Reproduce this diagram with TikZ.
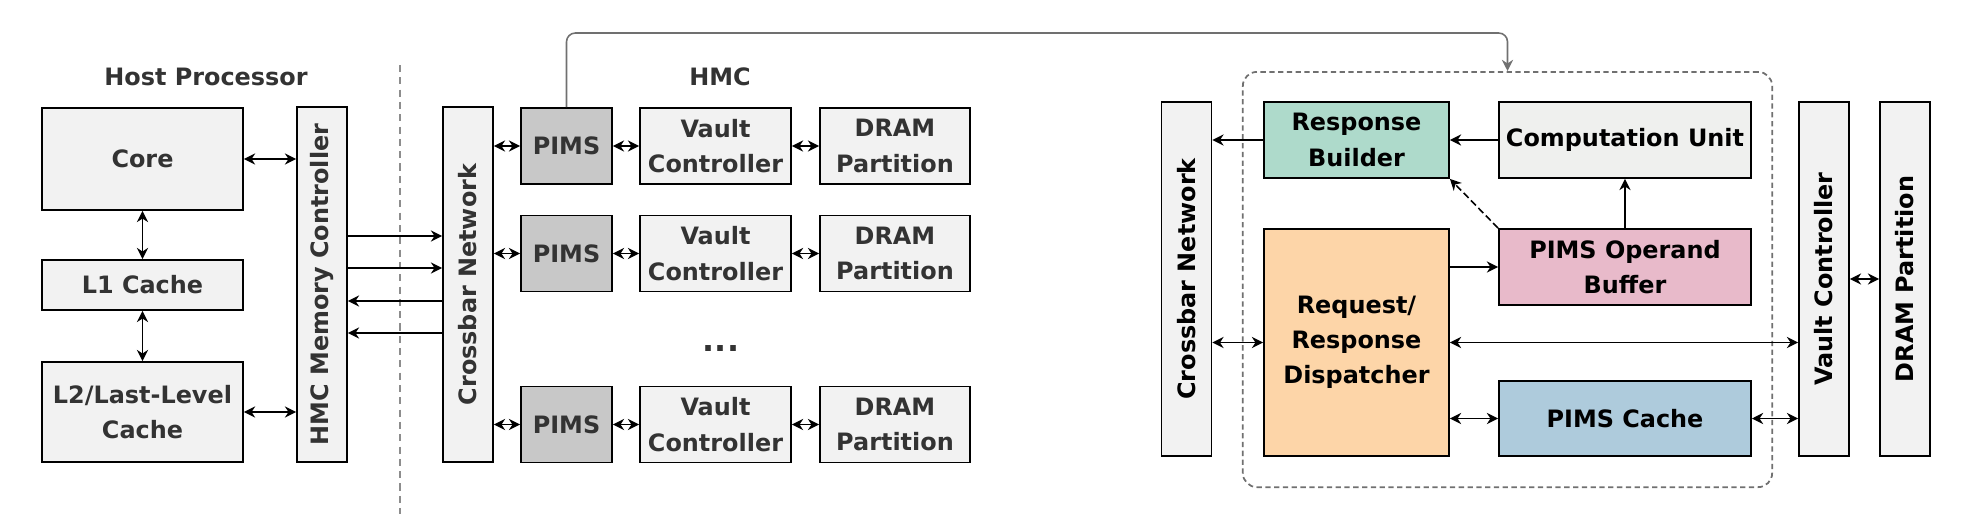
\documentclass[tikz,border=0pt]{standalone}
\usepackage{fontspec}
\setmainfont{DejaVu Sans}
\usetikzlibrary{arrows.meta}

\definecolor{boxGray}{HTML}{F2F2F2}
\definecolor{pimsGray}{HTML}{C8C8C8}
\definecolor{textGray}{HTML}{333333}
\definecolor{lineGray}{HTML}{707070}
\definecolor{builderTeal}{HTML}{AEDACB}
\definecolor{computeGray}{HTML}{EFF0EE}
\definecolor{operandPink}{HTML}{E8BACA}
\definecolor{dispatchPeach}{HTML}{FDD5A8}
\definecolor{cacheBlue}{HTML}{AECBDC}

\begin{document}
\begin{tikzpicture}[x=0.01cm, y=-0.01cm,
    >={Stealth[length=3.2pt,width=3.2pt]},
    box/.style={draw, line width=0.5pt, fill=boxGray, inner sep=0pt, align=center,
        text=textGray, font=\fontsize{6.8}{10}\selectfont\bfseries},
    title/.style={inner sep=0pt, text=textGray, font=\fontsize{6.8}{10}\selectfont\bfseries},
    busBox/.style={box, minimum width=0.5cm, minimum height=3.55cm},
    pimsBox/.style={box, fill=pimsGray, minimum width=0.91cm, minimum height=0.76cm},
    vaultBox/.style={box, minimum width=1.51cm, minimum height=0.76cm},
    dramBox/.style={box, minimum width=1.5cm, minimum height=0.76cm},
    unit/.style={box, text=black, minimum width=2.52cm, minimum height=0.76cm},
    link/.style={line width=0.45pt}]
    \useasboundingbox (0,0) rectangle (1966,514);

    % host side
    \node[title] (hostlabel) at (206,77) {Host Processor};
    \node[box, minimum width=2.01cm, minimum height=1.02cm] (core) at (142.5,159) {Core};
    \node[box, minimum width=2.01cm, minimum height=0.5cm] (l1) at (142.5,285) {L1 Cache};
    \node[box, minimum width=2.01cm, minimum height=1.0cm] (l2) at (142.5,412) {L2/Last-Level\\Cache};
    \node[busBox] (hmcmc) at (322,284.5) {\rotatebox{90}{HMC Memory Controller}};

    \draw[link, <->] (core.east) -- (hmcmc.west |- core.east);
    \draw[link, <->] (l2.east) -- (hmcmc.west |- l2.east);
    \draw[link, <->] (core.south) -- (l1.north);
    \draw[link, <->] (l1.south) -- (l2.north);

    \draw[lineGray!80, line width=0.4pt, dash pattern=on 2pt off 1.5pt] (400,65) -- (400,514);

    % HMC side
    \node[title] (hmclabel) at (720,77) {HMC};
    \node[busBox] (xbar) at (468,284.5) {\rotatebox{90}{Crossbar Network}};

    \draw[link, ->] (hmcmc.east |- 0,236) -- (xbar.west |- 0,236);
    \draw[link, ->] (hmcmc.east |- 0,268) -- (xbar.west |- 0,268);
    \draw[link, <-] (hmcmc.east |- 0,301) -- (xbar.west |- 0,301);
    \draw[link, <-] (hmcmc.east |- 0,333) -- (xbar.west |- 0,333);

    \node[pimsBox] (pims1) at (566.5,146) {PIMS};
    \node[vaultBox] (vault1) at (715.5,146) {Vault\\Controller};
    \node[dramBox] (dram1) at (895,146) {DRAM\\Partition};
    \node[pimsBox] (pims2) at (566.5,253.5) {PIMS};
    \node[vaultBox] (vault2) at (715.5,253.5) {Vault\\Controller};
    \node[dramBox] (dram2) at (895,253.5) {DRAM\\Partition};
    \node[title, font=\fontsize{9}{10}\selectfont\bfseries] (dots) at (721,348) {...};
    \node[pimsBox] (pims3) at (566.5,424.5) {PIMS};
    \node[vaultBox] (vault3) at (715.5,424.5) {Vault\\Controller};
    \node[dramBox] (dram3) at (895,424.5) {DRAM\\Partition};

    \draw[link, <->] (xbar.east |- pims1.west) -- (pims1.west);
    \draw[link, <->] (pims1.east) -- (vault1.west);
    \draw[link, <->] (vault1.east) -- (dram1.west);
    \draw[link, <->] (xbar.east |- pims2.west) -- (pims2.west);
    \draw[link, <->] (pims2.east) -- (vault2.west);
    \draw[link, <->] (vault2.east) -- (dram2.west);
    \draw[link, <->] (xbar.east |- pims3.west) -- (pims3.west);
    \draw[link, <->] (pims3.east) -- (vault3.west);
    \draw[link, <->] (vault3.east) -- (dram3.west);

    % PIMS detail
    \node[draw=lineGray, line width=0.5pt, dash pattern=on 1.5pt off 1pt, rounded corners=4pt,
        minimum width=5.29cm, minimum height=4.15cm] (pimsunit) at (1507.5,279.5) {};
    \draw[link, lineGray, ->, rounded corners=2.5pt] (pims1.north) |- (1000,33) -| (pimsunit.north);

    \node[busBox, text=black, minimum height=3.54cm] (xbarR) at (1186.5,279) {\rotatebox{90}{Crossbar Network}};
    \node[unit, fill=builderTeal, minimum width=1.85cm] (builder) at (1356.5,140) {Response\\Builder};
    \node[unit, fill=computeGray] (compute) at (1625,140) {Computation Unit};
    \node[unit, fill=dispatchPeach, minimum width=1.85cm, minimum height=2.27cm] (dispatch) at (1356.5,342.5) {Request/\\Response\\Dispatcher};
    \node[unit, fill=operandPink] (operand) at (1625,267) {PIMS Operand\\Buffer};
    \node[unit, fill=cacheBlue, minimum height=0.75cm] (pcache) at (1625,418.5) {PIMS Cache};
    \node[busBox, text=black, minimum height=3.54cm] (vaultR) at (1824,279) {\rotatebox{90}{Vault Controller}};
    \node[busBox, text=black, minimum height=3.54cm] (dramR) at (1905,279) {\rotatebox{90}{DRAM Partition}};

    \draw[link, ->] (builder.west) -- (xbarR.east |- builder.west);
    \draw[link, ->] (compute.west) -- (builder.east);
    \draw[link, ->] (operand.north) -- (compute.south);
    \draw[link, ->, dash pattern=on 2pt off 1pt] (operand.north west) -- (builder.south east);
    \draw[link, ->] (dispatch.east |- operand.west) -- (operand.west);
    \draw[link, <->] (xbarR.east |- dispatch.west) -- (dispatch.west);
    \draw[link, <->] (dispatch.east) -- (vaultR.west |- dispatch.east);
    \draw[link, <->] (dispatch.east |- pcache.west) -- (pcache.west);
    \draw[link, <->] (pcache.east) -- (vaultR.west |- pcache.east);
    \draw[link, <->] (vaultR.east) -- (dramR.west);
\end{tikzpicture}
\end{document}
